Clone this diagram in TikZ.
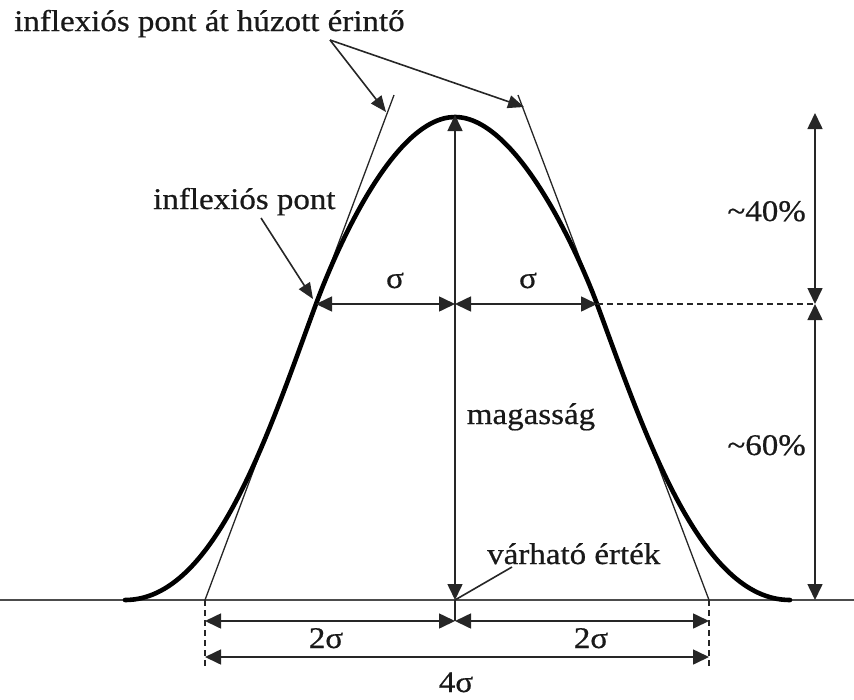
\documentclass[tikz,border=0pt]{standalone}
\usepackage{fontspec}
\setmainfont{Liberation Serif}[FakeStretch=1.1,FakeBold=0.6]
\usetikzlibrary{arrows.meta}
\begin{document}
\begin{tikzpicture}[x=1pt,y=-1pt,
  lbl/.style={font=\fontsize{30}{33}\selectfont, inner sep=0pt, text=black!90},
  ln/.style={line width=1.6pt, draw=black!85},
  dimarr/.style={ln, {Triangle[length=16pt,width=15pt]}-{Triangle[length=16pt,width=15pt]}},
  ptr/.style={ln, -{Triangle[length=16pt,width=13pt]}},
  dsh/.style={ln, dash pattern=on 6pt off 4pt},
  bell/.style={line width=4.6pt, line cap=round, draw=black}]
\useasboundingbox (0,0) rectangle (854,699);
% key points
\coordinate (peak) at (455,115);
\coordinate (base) at (455,600);
\coordinate (baseB) at (455,621);
\coordinate (infL) at (316,304);
\coordinate (infR) at (597,304);
\coordinate (mid) at (455,304);
\coordinate (tL0) at (205,600);
\coordinate (tL1) at (394,95);
\coordinate (tR0) at (709,600);
\coordinate (tR1) at (518,95);
\coordinate (axL) at (0,600);
\coordinate (axR) at (854,600);
\coordinate (dL0) at (205,621);
\coordinate (dL1) at (205,668);
\coordinate (dR0) at (709,621);
\coordinate (dR1) at (709,668);
\coordinate (fL) at (205,657);
\coordinate (fR) at (709,657);
\coordinate (rTop) at (815,113);
\coordinate (rMid) at (815,304);
\coordinate (rBot) at (815,600);
\coordinate (tipA) at (386,112);
\coordinate (tipB) at (524,107);
\coordinate (tipI) at (313,299);
% baseline
\draw[line width=1.8pt, draw=black!70] (axL) -- (axR);
% tangents
\draw[ln, line width=1.3pt] (tL0) -- (tL1);
\draw[ln, line width=1.3pt] (tR0) -- (tR1);
% bell curve
\draw[bell] (125,600) .. controls (215,600) and (268,434) .. (infL)
  .. controls (333,258) and (392,117) .. (455,117)
  .. controls (518,117) and (580,258) .. (infR)
  .. controls (645,434) and (700,600) .. (790,600);
% centre height
\draw[dimarr] (peak) -- (base);
\draw[ln] (base) -- (baseB);
% sigma arrows
\draw[dimarr] (infL) -- (mid);
\draw[dimarr] (mid) -- (infR);
\draw[dsh] (infR) -- (rMid);
% right percentages
\draw[dimarr] (rTop) -- (rMid);
\draw[dimarr] (rMid) -- (rBot);
% bottom dims
\draw[dsh] (tL0) -- (dL1);
\draw[dsh] (tR0) -- (dR1);
\draw[dimarr] (dL0) -- (baseB);
\draw[dimarr] (baseB) -- (dR0);
\draw[dimarr] (fL) -- (fR);
% labels
\node[lbl, anchor=base west] (title) at (14,31) {inflexiós pont át húzott érintő};
\coordinate (tsrc) at (330,40);
\draw[ptr] (tsrc) -- (tipA);
\draw[ptr] (tsrc) -- (tipB);
\node[lbl, anchor=base west] (infl) at (153,209) {inflexiós pont};
\coordinate (isrc) at (261,218);
\draw[ptr] (isrc) -- (tipI);
\node[lbl, anchor=base] (s1) at (395,288) {σ};
\node[lbl, anchor=base] (s2) at (528,288) {σ};
\node[lbl, anchor=base] (mag) at (531,424) {magasság};
\node[lbl, anchor=base east] (p40) at (806,221) {\textasciitilde 40\%};
\node[lbl, anchor=base east] (p60) at (806,455) {\textasciitilde 60\%};
\node[lbl, anchor=base west] (varh) at (487,564) {várható érték};
\coordinate (vsrc) at (512,567);
\draw[ln] (vsrc) -- (base);
\node[lbl, anchor=base] (ts1) at (326,648) {2σ};
\node[lbl, anchor=base] (ts2) at (591,648) {2σ};
\node[lbl, anchor=base] (fs) at (456,692) {4σ};
\end{tikzpicture}
\end{document}
